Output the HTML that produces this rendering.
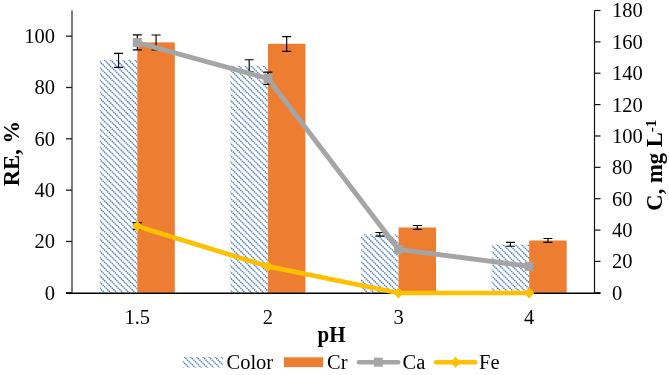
<!DOCTYPE html><html><head><meta charset="utf-8"><style>html,body{margin:0;padding:0;background:#fff;overflow:hidden}svg{display:block;will-change:transform;opacity:0.999}text{font-family:"Liberation Serif",serif}</style></head><body>
<svg width="669" height="375" viewBox="0 0 669 375">
<rect width="669" height="375" fill="#fff"/>
<clipPath id="c1"><rect x="99.81" y="60.00" width="37.50" height="232.80"/></clipPath><g clip-path="url(#c1)"><path d="M-143.74,56.72L94.34,294.80M-137.62,56.72L100.46,294.80M-131.50,56.72L106.58,294.80M-125.38,56.72L112.70,294.80M-119.26,56.72L118.82,294.80M-113.14,56.72L124.94,294.80M-107.02,56.72L131.06,294.80M-100.90,56.72L137.18,294.80M-94.78,56.72L143.30,294.80M-88.66,56.72L149.42,294.80M-82.54,56.72L155.54,294.80M-76.42,56.72L161.66,294.80M-70.30,56.72L167.78,294.80M-64.18,56.72L173.90,294.80M-58.06,56.72L180.02,294.80M-51.94,56.72L186.14,294.80M-45.82,56.72L192.26,294.80M-39.70,56.72L198.38,294.80M-33.58,56.72L204.50,294.80M-27.46,56.72L210.62,294.80M-21.34,56.72L216.74,294.80M-15.22,56.72L222.86,294.80M-9.10,56.72L228.98,294.80M-2.98,56.72L235.10,294.80M3.14,56.72L241.22,294.80M9.26,56.72L247.34,294.80M15.38,56.72L253.46,294.80M21.50,56.72L259.58,294.80M27.62,56.72L265.70,294.80M33.74,56.72L271.82,294.80M39.86,56.72L277.94,294.80M45.98,56.72L284.06,294.80M52.10,56.72L290.18,294.80M58.22,56.72L296.30,294.80M64.34,56.72L302.42,294.80M70.46,56.72L308.54,294.80M76.58,56.72L314.66,294.80M82.70,56.72L320.78,294.80M88.82,56.72L326.90,294.80M94.94,56.72L333.02,294.80M101.06,56.72L339.14,294.80M107.18,56.72L345.26,294.80M113.30,56.72L351.38,294.80M119.42,56.72L357.50,294.80M125.54,56.72L363.62,294.80M131.66,56.72L369.74,294.80M137.78,56.72L375.86,294.80M143.90,56.72L381.98,294.80" stroke="#5182c9" stroke-width="1.45" stroke-dasharray="1.500 0.664" fill="none"/></g>
<rect x="137.31" y="42.40" width="37.50" height="250.40" fill="#ED7D31"/>
<clipPath id="c2"><rect x="230.44" y="65.80" width="37.50" height="227.00"/></clipPath><g clip-path="url(#c2)"><path d="M-9.10,62.84L222.86,294.80M-2.98,62.84L228.98,294.80M3.14,62.84L235.10,294.80M9.26,62.84L241.22,294.80M15.38,62.84L247.34,294.80M21.50,62.84L253.46,294.80M27.62,62.84L259.58,294.80M33.74,62.84L265.70,294.80M39.86,62.84L271.82,294.80M45.98,62.84L277.94,294.80M52.10,62.84L284.06,294.80M58.22,62.84L290.18,294.80M64.34,62.84L296.30,294.80M70.46,62.84L302.42,294.80M76.58,62.84L308.54,294.80M82.70,62.84L314.66,294.80M88.82,62.84L320.78,294.80M94.94,62.84L326.90,294.80M101.06,62.84L333.02,294.80M107.18,62.84L339.14,294.80M113.30,62.84L345.26,294.80M119.42,62.84L351.38,294.80M125.54,62.84L357.50,294.80M131.66,62.84L363.62,294.80M137.78,62.84L369.74,294.80M143.90,62.84L375.86,294.80M150.02,62.84L381.98,294.80M156.14,62.84L388.10,294.80M162.26,62.84L394.22,294.80M168.38,62.84L400.34,294.80M174.50,62.84L406.46,294.80M180.62,62.84L412.58,294.80M186.74,62.84L418.70,294.80M192.86,62.84L424.82,294.80M198.98,62.84L430.94,294.80M205.10,62.84L437.06,294.80M211.22,62.84L443.18,294.80M217.34,62.84L449.30,294.80M223.46,62.84L455.42,294.80M229.58,62.84L461.54,294.80M235.70,62.84L467.66,294.80M241.82,62.84L473.78,294.80M247.94,62.84L479.90,294.80M254.06,62.84L486.02,294.80M260.18,62.84L492.14,294.80M266.30,62.84L498.26,294.80M272.42,62.84L504.38,294.80" stroke="#5182c9" stroke-width="1.45" stroke-dasharray="1.500 0.664" fill="none"/></g>
<rect x="267.94" y="43.80" width="37.50" height="249.00" fill="#ED7D31"/>
<clipPath id="c3"><rect x="361.06" y="234.20" width="37.50" height="58.60"/></clipPath><g clip-path="url(#c3)"><path d="M287.72,231.14L351.38,294.80M293.84,231.14L357.50,294.80M299.96,231.14L363.62,294.80M306.08,231.14L369.74,294.80M312.20,231.14L375.86,294.80M318.32,231.14L381.98,294.80M324.44,231.14L388.10,294.80M330.56,231.14L394.22,294.80M336.68,231.14L400.34,294.80M342.80,231.14L406.46,294.80M348.92,231.14L412.58,294.80M355.04,231.14L418.70,294.80M361.16,231.14L424.82,294.80M367.28,231.14L430.94,294.80M373.40,231.14L437.06,294.80M379.52,231.14L443.18,294.80M385.64,231.14L449.30,294.80M391.76,231.14L455.42,294.80M397.88,231.14L461.54,294.80M404.00,231.14L467.66,294.80" stroke="#5182c9" stroke-width="1.45" stroke-dasharray="1.500 0.664" fill="none"/></g>
<rect x="398.56" y="227.50" width="37.50" height="65.30" fill="#ED7D31"/>
<clipPath id="c4"><rect x="491.69" y="244.50" width="37.50" height="48.30"/></clipPath><g clip-path="url(#c4)"><path d="M433.07,241.85L486.02,294.80M439.19,241.85L492.14,294.80M445.31,241.85L498.26,294.80M451.43,241.85L504.38,294.80M457.55,241.85L510.50,294.80M463.67,241.85L516.62,294.80M469.79,241.85L522.74,294.80M475.91,241.85L528.86,294.80M482.03,241.85L534.98,294.80M488.15,241.85L541.10,294.80M494.27,241.85L547.22,294.80M500.39,241.85L553.34,294.80M506.51,241.85L559.46,294.80M512.63,241.85L565.58,294.80M518.75,241.85L571.70,294.80M524.87,241.85L577.82,294.80M530.99,241.85L583.94,294.80M537.11,241.85L590.06,294.80" stroke="#5182c9" stroke-width="1.45" stroke-dasharray="1.500 0.664" fill="none"/></g>
<rect x="529.19" y="240.50" width="37.50" height="52.30" fill="#ED7D31"/>
<path d="M118.56,53.30V67.40M114.06,53.30H123.06M114.06,67.40H123.06" stroke="#000" stroke-width="1.15" fill="none"/>
<path d="M156.06,35.00V49.90M151.56,35.00H160.56M151.56,49.90H160.56" stroke="#000" stroke-width="1.15" fill="none"/>
<path d="M249.19,59.70V71.90M244.69,59.70H253.69M244.69,71.90H253.69" stroke="#000" stroke-width="1.15" fill="none"/>
<path d="M286.69,36.60V51.30M282.19,36.60H291.19M282.19,51.30H291.19" stroke="#000" stroke-width="1.15" fill="none"/>
<path d="M379.81,232.50V236.10M375.31,232.50H384.31M375.31,236.10H384.31" stroke="#000" stroke-width="1.15" fill="none"/>
<path d="M417.31,225.50V229.30M412.81,225.50H421.81M412.81,229.30H421.81" stroke="#000" stroke-width="1.15" fill="none"/>
<path d="M510.44,242.30V246.20M505.94,242.30H514.94M505.94,246.20H514.94" stroke="#000" stroke-width="1.15" fill="none"/>
<path d="M547.94,238.50V242.40M543.44,238.50H552.44M543.44,242.40H552.44" stroke="#000" stroke-width="1.15" fill="none"/>
<line x1="72.0" y1="10.5" x2="72.0" y2="292.8" stroke="#6e6e6e" stroke-width="1.8"/>
<line x1="66" y1="292.80" x2="72.0" y2="292.80" stroke="#1a1a1a" stroke-width="1.3"/>
<text x="55" y="299.70" font-size="20.5" text-anchor="end">0</text>
<line x1="66" y1="241.47" x2="72.0" y2="241.47" stroke="#1a1a1a" stroke-width="1.3"/>
<text x="55" y="248.37" font-size="20.5" text-anchor="end">20</text>
<line x1="66" y1="190.15" x2="72.0" y2="190.15" stroke="#1a1a1a" stroke-width="1.3"/>
<text x="55" y="197.05" font-size="20.5" text-anchor="end">40</text>
<line x1="66" y1="138.82" x2="72.0" y2="138.82" stroke="#1a1a1a" stroke-width="1.3"/>
<text x="55" y="145.72" font-size="20.5" text-anchor="end">60</text>
<line x1="66" y1="87.49" x2="72.0" y2="87.49" stroke="#1a1a1a" stroke-width="1.3"/>
<text x="55" y="94.39" font-size="20.5" text-anchor="end">80</text>
<line x1="66" y1="36.16" x2="72.0" y2="36.16" stroke="#1a1a1a" stroke-width="1.3"/>
<text x="55" y="43.06" font-size="20.5" text-anchor="end">100</text>
<line x1="594.5" y1="10.5" x2="594.5" y2="292.8" stroke="#111" stroke-width="1.2"/>
<line x1="594.5" y1="292.80" x2="600.5" y2="292.80" stroke="#111" stroke-width="1.2"/>
<text x="612" y="299.70" font-size="20.5">0</text>
<line x1="594.5" y1="261.43" x2="600.5" y2="261.43" stroke="#111" stroke-width="1.2"/>
<text x="612" y="268.33" font-size="20.5">20</text>
<line x1="594.5" y1="230.07" x2="600.5" y2="230.07" stroke="#111" stroke-width="1.2"/>
<text x="612" y="236.97" font-size="20.5">40</text>
<line x1="594.5" y1="198.70" x2="600.5" y2="198.70" stroke="#111" stroke-width="1.2"/>
<text x="612" y="205.60" font-size="20.5">60</text>
<line x1="594.5" y1="167.33" x2="600.5" y2="167.33" stroke="#111" stroke-width="1.2"/>
<text x="612" y="174.23" font-size="20.5">80</text>
<line x1="594.5" y1="135.97" x2="600.5" y2="135.97" stroke="#111" stroke-width="1.2"/>
<text x="612" y="142.87" font-size="20.5">100</text>
<line x1="594.5" y1="104.60" x2="600.5" y2="104.60" stroke="#111" stroke-width="1.2"/>
<text x="612" y="111.50" font-size="20.5">120</text>
<line x1="594.5" y1="73.23" x2="600.5" y2="73.23" stroke="#111" stroke-width="1.2"/>
<text x="612" y="80.13" font-size="20.5">140</text>
<line x1="594.5" y1="41.87" x2="600.5" y2="41.87" stroke="#111" stroke-width="1.2"/>
<text x="612" y="48.77" font-size="20.5">160</text>
<line x1="594.5" y1="10.50" x2="600.5" y2="10.50" stroke="#111" stroke-width="1.2"/>
<text x="612" y="17.40" font-size="20.5">180</text>
<line x1="66" y1="293.3" x2="600.5" y2="293.3" stroke="#000" stroke-width="1.5"/>
<path d="M137.31,34.90V49.80M132.81,34.90H141.81M132.81,49.80H141.81" stroke="#000" stroke-width="1.15" fill="none"/>
<path d="M267.94,72.10V84.30M263.44,72.10H272.44M263.44,84.30H272.44" stroke="#000" stroke-width="1.15" fill="none"/>
<path d="M398.56,247.50V251.30M394.06,247.50H403.06M394.06,251.30H403.06" stroke="#000" stroke-width="1.15" fill="none"/>
<path d="M529.19,264.50V268.10M524.69,264.50H533.69M524.69,268.10H533.69" stroke="#000" stroke-width="1.15" fill="none"/>
<polyline points="137.31,42.60 267.94,78.50 398.56,249.40 529.19,266.30" fill="none" stroke="#A5A5A5" stroke-width="4.9" stroke-linejoin="round" stroke-linecap="round"/>
<rect x="132.81" y="38.10" width="9" height="9" fill="#A5A5A5"/>
<rect x="263.44" y="74.00" width="9" height="9" fill="#A5A5A5"/>
<rect x="394.06" y="244.90" width="9" height="9" fill="#A5A5A5"/>
<rect x="524.69" y="261.80" width="9" height="9" fill="#A5A5A5"/>
<path d="M137.31,222.60V229.30M132.81,222.60H141.81M132.81,229.30H141.81" stroke="#000" stroke-width="1.15" fill="none"/>
<polyline points="137.31,226.30 267.94,266.40 398.56,293.00 529.19,293.00" fill="none" stroke="#FFC000" stroke-width="4.7" stroke-linejoin="round" stroke-linecap="round"/>
<path d="M137.31,221.70L141.51,226.30L137.31,230.90L133.11,226.30Z" fill="#FFC000" stroke="#FFC000" stroke-width="1.4" stroke-linejoin="round"/>
<path d="M267.94,261.80L272.14,266.40L267.94,271.00L263.74,266.40Z" fill="#FFC000" stroke="#FFC000" stroke-width="1.4" stroke-linejoin="round"/>
<path d="M398.56,288.40L402.76,293.00L398.56,297.60L394.36,293.00Z" fill="#FFC000" stroke="#FFC000" stroke-width="1.4" stroke-linejoin="round"/>
<path d="M529.19,288.40L533.39,293.00L529.19,297.60L524.99,293.00Z" fill="#FFC000" stroke="#FFC000" stroke-width="1.4" stroke-linejoin="round"/>
<text x="137.31" y="324" font-size="20.5" text-anchor="middle">1.5</text>
<text x="267.94" y="324" font-size="20.5" text-anchor="middle">2</text>
<text x="398.56" y="324" font-size="20.5" text-anchor="middle">3</text>
<text x="529.19" y="324" font-size="20.5" text-anchor="middle">4</text>
<text transform="translate(331.5,341.7) scale(0.92,1)" font-size="22.8" font-weight="bold" text-anchor="middle">pH</text>
<text transform="translate(18.8,153.6) rotate(-90)" font-size="22.6" font-weight="bold" text-anchor="middle">RE, %</text>
<text transform="translate(662.4,165.2) rotate(-90)" font-size="22.6" font-weight="bold" text-anchor="middle">C, mg L<tspan font-size="15" dy="-6.8">-1</tspan></text>
<clipPath id="c5"><rect x="182.80" y="357.00" width="40.00" height="10.50"/></clipPath><g clip-path="url(#c5)"><path d="M162.70,353.54L178.66,369.50M168.82,353.54L184.78,369.50M174.94,353.54L190.90,369.50M181.06,353.54L197.02,369.50M187.18,353.54L203.14,369.50M193.30,353.54L209.26,369.50M199.42,353.54L215.38,369.50M205.54,353.54L221.50,369.50M211.66,353.54L227.62,369.50M217.78,353.54L233.74,369.50M223.90,353.54L239.86,369.50M230.02,353.54L245.98,369.50" stroke="#5182c9" stroke-width="1.45" stroke-dasharray="1.500 0.664" fill="none"/></g>
<text x="226.5" y="368.5" font-size="20.5">Color</text>
<rect x="283.9" y="357.3" width="39.2" height="9.8" fill="#ED7D31"/>
<text x="327" y="368.5" font-size="20.5">Cr</text>
<line x1="359" y1="362.2" x2="398.2" y2="362.2" stroke="#A5A5A5" stroke-width="4.5" stroke-linecap="round"/>
<rect x="373.9" y="357.7" width="9" height="9" fill="#A5A5A5"/>
<text x="402.5" y="368.5" font-size="20.5">Ca</text>
<line x1="436" y1="362.2" x2="475.2" y2="362.2" stroke="#FFC000" stroke-width="4.5" stroke-linecap="round"/>
<path d="M455.50,357.70L459.70,362.30L455.50,366.90L451.30,362.30Z" fill="#FFC000" stroke="#FFC000" stroke-width="1.4" stroke-linejoin="round"/>
<text x="479" y="368.5" font-size="20.5">Fe</text>
</svg></body></html>
